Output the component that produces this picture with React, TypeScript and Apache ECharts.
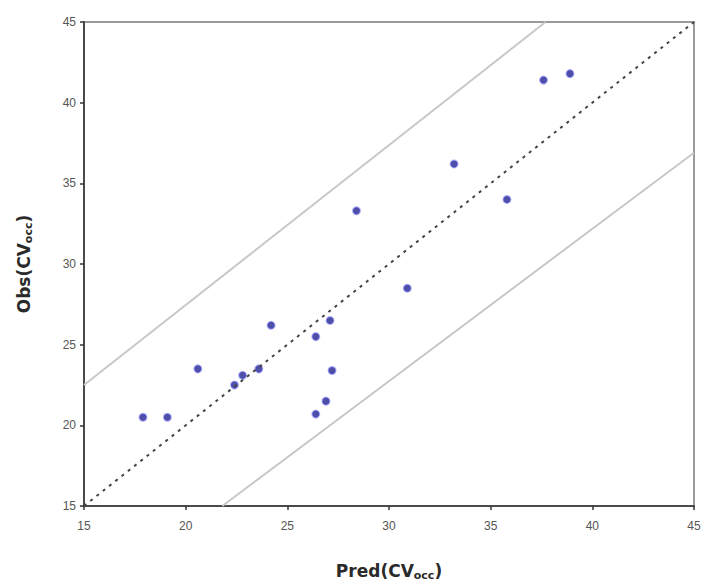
import React, { useEffect, useRef } from "react";
import * as echarts from "echarts";

const predValues = [17.9, 19.1, 20.6, 22.4, 22.8, 23.6, 24.2, 26.4, 27.1, 27.2, 26.9, 26.4, 28.4, 30.9, 33.2, 35.8, 37.6, 38.9];
const obsValues = [20.5, 20.5, 23.5, 22.5, 23.1, 23.5, 26.2, 25.5, 26.5, 23.4, 21.5, 20.7, 33.3, 28.5, 36.2, 34.0, 41.4, 41.8];
const identityLine = [[15, 15], [45, 45]];
const upperLine = [[15, 22.5], [37.7, 45]];
const lowerLine = [[21.8, 15], [45, 36.9]];
const axisMin = 15;
const axisMax = 45;
const axisStep = 5;

export default function App() {
  const ref = useRef<HTMLDivElement>(null);
  useEffect(() => {
    if (!ref.current) return;
    const chart = echarts.init(ref.current, null, { renderer: "svg" });
    const points = predValues.map((x, i) => [x, obsValues[i]]);
    const titleRich = {
      main: { fontFamily: "DejaVu Sans", fontWeight: "bold", fontSize: 17, color: "#2a2a2a" },
      sub: { fontFamily: "DejaVu Sans", fontWeight: "bold", fontSize: 11, color: "#2a2a2a", padding: [9, 0, 0, 0] },
    };
    chart.setOption({
      animation: false,
      grid: { left: 84, right: 10, top: 22, bottom: 82, show: true, borderColor: "#9a9a9a", borderWidth: 2, backgroundColor: "#fff" },
      xAxis: {
        type: "value",
        min: axisMin,
        max: axisMax,
        interval: axisStep,
        name: "{main|Pred(CV}{sub|occ}{main|)}",
        nameLocation: "middle",
        nameGap: 55,
        nameTextStyle: { rich: titleRich },
        axisLine: { show: true, lineStyle: { color: "#4a4a4a", width: 2 } },
        axisTick: { show: true, length: 4, lineStyle: { color: "#333", width: 1.5 } },
        axisLabel: { color: "#555", fontSize: 12, fontFamily: "Liberation Sans", margin: 14 },
        splitLine: { show: false },
      },
      yAxis: {
        type: "value",
        min: axisMin,
        max: axisMax,
        interval: axisStep,
        name: "{main|Obs(CV}{sub|occ}{main|)}",
        nameLocation: "middle",
        nameGap: 50,
        nameRotate: 90,
        nameTextStyle: { rich: titleRich },
        axisLine: { show: true, lineStyle: { color: "#4a4a4a", width: 2 } },
        axisTick: { show: true, length: 4, lineStyle: { color: "#333", width: 1.5 } },
        axisLabel: { color: "#555", fontSize: 12, fontFamily: "Liberation Sans", margin: 8 },
        splitLine: { show: false },
      },
      series: [
        {
          type: "line",
          data: upperLine,
          symbol: "none",
          lineStyle: { color: "#c8c8c8", width: 2 },
          silent: true,
        },
        {
          type: "line",
          data: lowerLine,
          symbol: "none",
          lineStyle: { color: "#c8c8c8", width: 2 },
          silent: true,
        },
        {
          type: "line",
          data: identityLine,
          symbol: "none",
          lineStyle: { color: "#444", width: 2, type: [3, 5] },
          silent: true,
        },
        {
          type: "scatter",
          data: points,
          symbol: "circle",
          symbolSize: 7,
          itemStyle: { color: "#23238c", borderColor: "rgba(70,70,220,0.55)", borderWidth: 2 },
        },
      ],
    });
    return () => chart.dispose();
  }, []);
  return <div ref={ref} style={{ width: 704, height: 588, position: "absolute", left: 0, top: 0 }} />;
}
